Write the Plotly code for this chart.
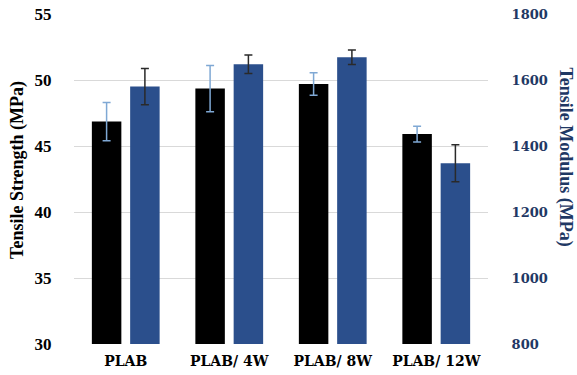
import plotly.graph_objects as go

categories = ["PLAB", "PLAB/ 4W", "PLAB/ 8W", "PLAB/ 12W"]
strength = [46.85, 49.35, 49.7, 45.9]
strength_err = [1.45, 1.75, 0.85, 0.6]
modulus = [1580, 1648, 1669, 1348]
modulus_err = [55, 28, 22, 56]
left_ticks = [30, 35, 40, 45, 50, 55]
right_ticks = [800, 1000, 1200, 1400, 1600, 1800]

SERIF = "Liberation Serif, Times New Roman, serif"
WIDE = "DejaVu Serif, serif"
NAVY = "#1f3864"
BLUE = "#2b4f8c"

fig = go.Figure()
fig.add_trace(go.Bar(
    x=categories, y=strength, name="Tensile Strength",
    marker=dict(color="#000000", line=dict(width=0)),
    error_y=dict(type="data", array=strength_err, color="#7fa8d4", thickness=1.5, width=4),
    offsetgroup="1", yaxis="y",
))
fig.add_trace(go.Bar(
    x=categories, y=modulus, name="Tensile Modulus",
    marker=dict(color=BLUE, line=dict(width=0)),
    error_y=dict(type="data", array=modulus_err, color="#2a2a2a", thickness=1.5, width=4),
    offsetgroup="2", yaxis="y2",
))

fig.update_layout(
    width=577, height=375,
    margin=dict(l=74, r=89, t=14, b=31, autoexpand=False),
    paper_bgcolor="white", plot_bgcolor="white",
    barmode="group", bargap=0.26, bargroupgap=0.23,
    showlegend=False,
    font=dict(family=SERIF),
    xaxis=dict(
        automargin=False,
        showgrid=False, showline=False, zeroline=False,
        tickvals=categories, ticktext=[f"<b>{c}</b>" for c in categories],
        tickfont=dict(family=WIDE, size=14, color="#000000"),
        ticks="outside", ticklen=4, tickcolor="rgba(0,0,0,0)",
    ),
    yaxis=dict(
        automargin=False,
        range=[30, 55], tickvals=left_ticks, ticktext=[f"<b>{t}</b>" for t in left_ticks],
        showgrid=True, gridcolor="#d9d9d9", gridwidth=1,
        zeroline=False, showline=False,
        tickfont=dict(family=SERIF, size=17, color="#000000"),
        ticks="outside", ticklen=18, tickcolor="rgba(0,0,0,0)",
    ),
    yaxis2=dict(
        automargin=False,
        range=[800, 1800], tickvals=right_ticks, ticktext=[f"<b>{t}</b>" for t in right_ticks],
        overlaying="y", side="right",
        showgrid=False, zeroline=False, showline=False,
        tickfont=dict(family=WIDE, size=13, color=NAVY),
        ticks="outside", ticklen=20, tickcolor="rgba(0,0,0,0)",
    ),
    annotations=[
        dict(text="<b>Tensile Strength (MPa)</b>", xref="paper", yref="paper",
             x=-0.138, y=0.527, textangle=-90, showarrow=False,
             xanchor="center", yanchor="middle",
             font=dict(family=SERIF, size=18, color="#000000")),
        dict(text="<b>Tensile Modulus (MPa)</b>", xref="paper", yref="paper",
             x=1.187, y=0.567, textangle=90, showarrow=False,
             xanchor="center", yanchor="middle",
             font=dict(family=SERIF, size=18, color=NAVY)),
    ],
)

fig.write_html(
    "out.html",
    config={"displayModeBar": False},
    post_script="document.body.style.margin='0';document.body.style.overflow='hidden';",
)
